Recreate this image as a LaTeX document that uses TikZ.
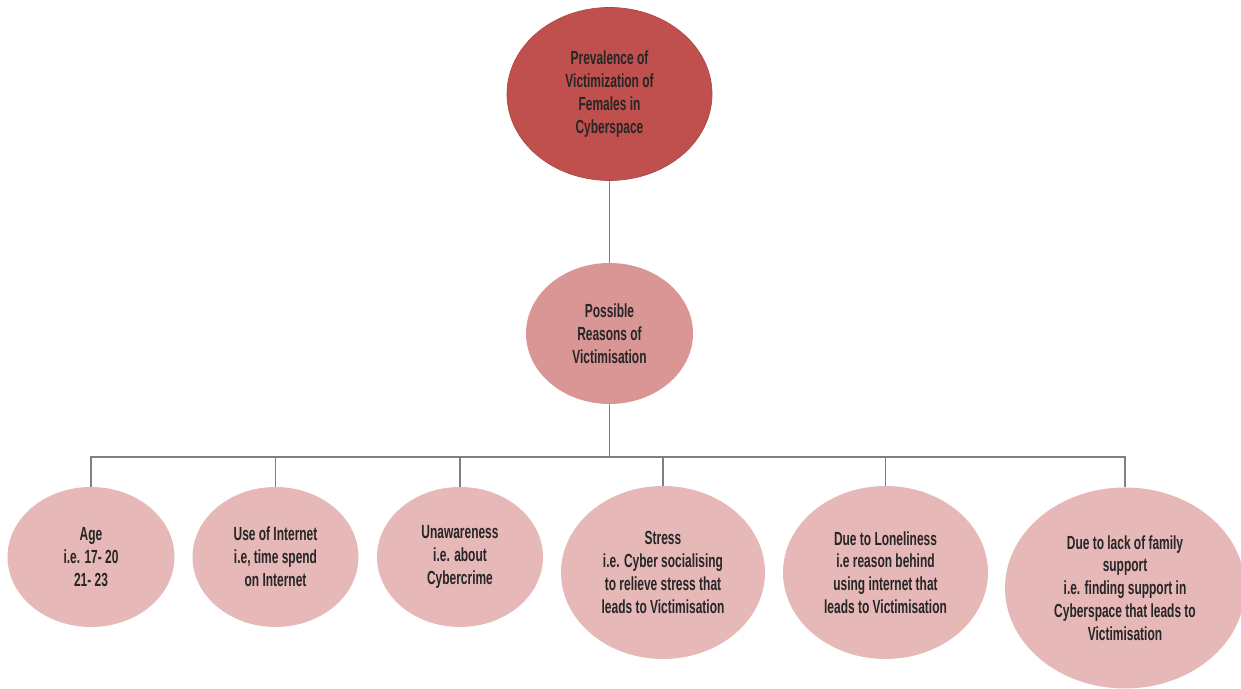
\documentclass[tikz,border=0pt]{standalone}
\usepackage{fontspec}
\usepackage{xcolor}
\usetikzlibrary{shapes.geometric}
\newfontfamily\narrowsans[FakeStretch=0.63]{Liberation Sans}
\definecolor{topred}{HTML}{C0504D}
\definecolor{midred}{HTML}{D99694}
\definecolor{lowred}{HTML}{E6B9B8}
\definecolor{linkgray}{HTML}{808080}

\begin{document}
\begin{tikzpicture}[
    oval/.style={ellipse, inner sep=0pt, align=center, text=black!85,
        font=\narrowsans\bfseries\fontsize{10.8}{13}\selectfont},
    link/.style={draw=linkgray, line width=0.8pt}
]
    \useasboundingbox (0,0) rectangle (24.82,13.78);

    % Top node
    \node[oval, fill=topred, draw=topred!90!black, minimum width=4.1cm, minimum height=3.46cm]
        (prevalence) at (12.19,11.9) {Prevalence of\\Victimization of\\Females in\\Cyberspace};

    % Middle node
    \node[oval, fill=midred, minimum width=3.34cm, minimum height=2.82cm]
        (reasons) at (12.19,7.11) {Possible\\Reasons of\\Victimisation};

    % Reasons
    \node[oval, fill=lowred, minimum width=3.34cm, minimum height=2.8cm]
        (age) at (1.82,2.64) {Age\\i.e. 17- 20\\21- 23};
    \node[oval, fill=lowred, minimum width=3.32cm, minimum height=2.8cm]
        (internet) at (5.51,2.64) {Use of Internet\\i.e, time spend\\on Internet};
    \node[oval, fill=lowred, minimum width=3.32cm, minimum height=2.8cm]
        (unaware) at (9.2,2.64) {Unawareness\\i.e. about\\Cybercrime};
    \node[oval, fill=lowred, minimum width=4.08cm, minimum height=3.46cm]
        (stress) at (13.26,2.33) {Stress\\i.e. Cyber socialising\\to relieve stress that\\leads to Victimisation};
    \node[oval, fill=lowred, minimum width=4.1cm, minimum height=3.46cm]
        (lonely) at (17.71,2.33) {Due to Loneliness\\i.e reason behind\\using internet that\\leads to Victimisation};
    \node[oval, fill=lowred, minimum width=4.8cm, minimum height=4.02cm]
        (family) at (22.5,2.02) {Due to lack of family\\support\\i.e. finding support in\\Cyberspace that leads to\\Victimisation};

    % Connectors
    \coordinate (bar) at (12.19,4.64);
    \draw[link] (prevalence) -- (reasons);
    \draw[link] (reasons.south) -- (bar);
    \foreach \n in {age, internet, unaware, stress, lonely, family}
        \draw[link] (bar) -| (\n.north);
\end{tikzpicture}
\end{document}
